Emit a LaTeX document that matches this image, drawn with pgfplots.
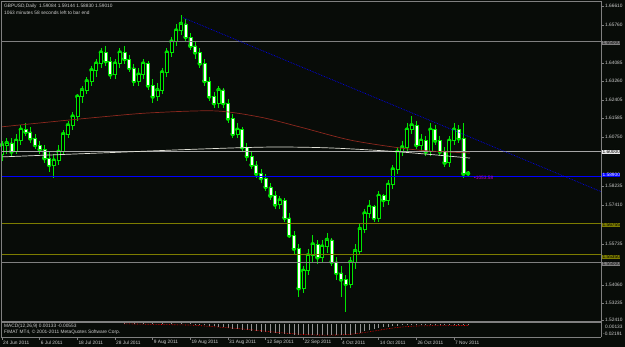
\documentclass[border=0pt]{standalone}
\usepackage{pgfplots}
\pgfplotsset{compat=1.18}
\usepackage{pgfplotstable}
\usepackage{fontspec}
\setmainfont{Liberation Sans}
\definecolor{bg}{RGB}{8,12,8}
\definecolor{limec}{RGB}{0,230,0}
\definecolor{mared}{RGB}{140,40,30}
\definecolor{mawhite}{RGB}{225,225,215}
\definecolor{olivec}{RGB}{125,125,0}
\definecolor{grayl}{RGB}{128,128,128}
\definecolor{tx}{RGB}{205,205,205}
\definecolor{magc}{RGB}{200,0,200}

\pgfplotstableread{
i o h l c
0 1.5990 1.6050 1.5960 1.6030
1 1.6030 1.6060 1.5990 1.6040
2 1.6040 1.6060 1.5980 1.6000
3 1.6000 1.6080 1.5990 1.6050
4 1.6050 1.6120 1.6030 1.6100
5 1.6100 1.6130 1.6070 1.6090
6 1.6090 1.6110 1.6040 1.6060
7 1.6060 1.6080 1.6010 1.6030
8 1.6030 1.6050 1.5990 1.6010
9 1.6010 1.6030 1.5950 1.5970
10 1.5970 1.6000 1.5910 1.5940
11 1.5940 1.5990 1.5880 1.5960
12 1.5960 1.6030 1.5940 1.6000
13 1.6000 1.6100 1.5990 1.6080
14 1.6080 1.6140 1.6060 1.6120
15 1.6120 1.6180 1.6100 1.6160
16 1.6160 1.6260 1.6140 1.6250
17 1.6250 1.6300 1.6220 1.6280
18 1.6280 1.6340 1.6260 1.6320
19 1.6320 1.6390 1.6300 1.6370
20 1.6370 1.6420 1.6340 1.6400
21 1.6400 1.6470 1.6380 1.6450
22 1.6450 1.6480 1.6390 1.6410
23 1.6410 1.6430 1.6330 1.6350
24 1.6350 1.6420 1.6330 1.6400
25 1.6400 1.6470 1.6380 1.6450
26 1.6450 1.6480 1.6400 1.6420
27 1.6420 1.6440 1.6360 1.6380
28 1.6380 1.6400 1.6300 1.6320
29 1.6320 1.6380 1.6300 1.6350
30 1.6350 1.6420 1.6330 1.6400
31 1.6400 1.6410 1.6280 1.6300
32 1.6300 1.6330 1.6220 1.6250
33 1.6250 1.6310 1.6230 1.6280
34 1.6280 1.6380 1.6260 1.6360
35 1.6360 1.6470 1.6340 1.6450
36 1.6450 1.6520 1.6430 1.6500
37 1.6500 1.6580 1.6480 1.6550
38 1.6550 1.6620 1.6530 1.6580
39 1.6580 1.6600 1.6500 1.6520
40 1.6520 1.6540 1.6460 1.6480
41 1.6480 1.6500 1.6420 1.6450
42 1.6450 1.6470 1.6380 1.6400
43 1.6400 1.6420 1.6300 1.6320
44 1.6320 1.6340 1.6230 1.6250
45 1.6250 1.6270 1.6200 1.6220
46 1.6220 1.6300 1.6200 1.6280
47 1.6280 1.6290 1.6200 1.6220
48 1.6220 1.6240 1.6130 1.6150
49 1.6150 1.6170 1.6060 1.6080
50 1.6080 1.6130 1.6060 1.6100
51 1.6100 1.6110 1.6000 1.6020
52 1.6020 1.6040 1.5960 1.5980
53 1.5980 1.6000 1.5920 1.5940
54 1.5940 1.5960 1.5880 1.5900
55 1.5900 1.5920 1.5860 1.5880
56 1.5880 1.5900 1.5820 1.5840
57 1.5840 1.5860 1.5780 1.5800
58 1.5800 1.5820 1.5740 1.5760
59 1.5760 1.5800 1.5740 1.5780
60 1.5780 1.5790 1.5680 1.5700
61 1.5700 1.5720 1.5610 1.5620
62 1.5620 1.5640 1.5530 1.5560
63 1.5560 1.5580 1.5340 1.5380
64 1.5380 1.5480 1.5360 1.5460
65 1.5460 1.5560 1.5440 1.5530
66 1.5530 1.5620 1.5500 1.5580
67 1.5580 1.5600 1.5490 1.5520
68 1.5520 1.5600 1.5500 1.5570
69 1.5570 1.5630 1.5540 1.5600
70 1.5600 1.5610 1.5480 1.5500
71 1.5500 1.5520 1.5420 1.5450
72 1.5450 1.5480 1.5340 1.5420
73 1.5420 1.5440 1.5272 1.5400
74 1.5400 1.5520 1.5380 1.5500
75 1.5500 1.5580 1.5470 1.5550
76 1.5550 1.5670 1.5530 1.5650
77 1.5650 1.5740 1.5630 1.5720
78 1.5720 1.5780 1.5700 1.5750
79 1.5750 1.5760 1.5680 1.5700
80 1.5700 1.5820 1.5680 1.5800
81 1.5800 1.5810 1.5750 1.5780
82 1.5780 1.5870 1.5760 1.5850
83 1.5850 1.5940 1.5830 1.5920
84 1.5920 1.6020 1.5900 1.6000
85 1.6000 1.6050 1.5980 1.6020
86 1.6020 1.6130 1.6000 1.6100
87 1.6100 1.6160 1.6080 1.6120
88 1.6120 1.6140 1.6010 1.6030
89 1.6030 1.6080 1.6000 1.6050
90 1.6050 1.6070 1.5980 1.6000
91 1.6000 1.6130 1.5980 1.6100
92 1.6100 1.6120 1.6030 1.6050
93 1.6050 1.6070 1.5980 1.6000
94 1.6000 1.6020 1.5930 1.5950
95 1.5950 1.6070 1.5930 1.6050
96 1.6050 1.6130 1.6030 1.6100
97 1.6100 1.6120 1.6040 1.6060
98 1.6060 1.6130 1.5880 1.5900
99 1.59084 1.59144 1.58830 1.59010
}\candles

\pgfplotstableread{
i m s
26 0.0040 0.0000
28 0.0030 -0.0003
30 0.0030 -0.0006
32 0.0020 -0.0009
34 0.0030 -0.0012
36 0.0040 -0.0015
38 0.0050 -0.0018
40 0.0020 -0.0021
41 -0.0004 -0.0025
42 -0.0010 -0.0030
43 -0.0020 -0.0036
44 -0.0030 -0.0042
45 -0.0040 -0.0048
46 -0.0050 -0.0054
47 -0.0060 -0.0060
48 -0.0070 -0.0066
49 -0.0080 -0.0072
50 -0.0090 -0.0078
51 -0.0100 -0.0085
52 -0.0108 -0.0092
53 -0.0116 -0.0100
54 -0.0124 -0.0108
55 -0.0132 -0.0116
56 -0.0140 -0.0124
57 -0.0148 -0.0132
58 -0.0155 -0.0140
59 -0.0162 -0.0147
60 -0.0168 -0.0154
61 -0.0174 -0.0160
62 -0.0180 -0.0166
63 -0.0186 -0.0172
64 -0.0190 -0.0177
65 -0.0190 -0.0181
66 -0.0188 -0.0184
67 -0.0186 -0.0186
68 -0.0185 -0.0187
69 -0.0184 -0.0187
70 -0.0184 -0.0187
71 -0.0186 -0.0186
72 -0.0188 -0.0184
73 -0.0188 -0.0180
74 -0.0180 -0.0174
75 -0.0165 -0.0166
76 -0.0145 -0.0156
77 -0.0125 -0.0145
78 -0.0105 -0.0133
79 -0.0088 -0.0120
80 -0.0072 -0.0107
81 -0.0060 -0.0094
82 -0.0048 -0.0082
83 -0.0038 -0.0071
84 -0.0030 -0.0061
85 -0.0025 -0.0053
86 -0.0020 -0.0046
87 -0.0018 -0.0041
88 -0.0020 -0.0037
89 -0.0020 -0.0035
90 -0.0022 -0.0033
91 -0.0018 -0.0032
92 -0.0018 -0.0031
93 -0.0020 -0.0030
94 -0.0022 -0.0030
95 -0.0020 -0.0030
96 -0.0016 -0.0029
97 -0.0016 -0.0029
98 -0.0022 -0.0029
99 -0.0024 -0.0029
}\macd

\pgfplotsset{
  chart/.style={at={(1pt,26pt)}, anchor=south west, width=600pt, height=319pt,
    scale only axis, xmin=-0.212, xmax=127.23, ymin=1.52319, ymax=1.66791,
    axis lines=none, clip=true},
}
\begin{document}
\fontsize{4.8}{5.6}\selectfont
\begin{tikzpicture}[x=1pt,y=1pt]
\fill[bg] (0,0) rectangle (625,347);
% wicks
\begin{axis}[chart]
\addplot[limec, only marks, mark=none, error bars/.cd, y dir=both, y explicit,
  error mark=none, error bar style={limec, line width=0.7pt}]
  table[x=i, y=c, y error plus expr=\thisrow{h}-\thisrow{c}, y error minus expr=\thisrow{c}-\thisrow{l}] {\candles};
\end{axis}
% bodies
\begin{axis}[chart, ybar stacked, bar width=3pt]
\addplot[draw=none, fill=none] table[x=i, y expr={min(\thisrow{o},\thisrow{c})}] {\candles};
\addplot[draw=limec, fill=black, line width=0.6pt] table[x=i, y expr={max(\thisrow{c}-\thisrow{o},0)}] {\candles};
\addplot[draw=limec, fill=white, line width=0.6pt] table[x=i, y expr={max(\thisrow{o}-\thisrow{c},0)}] {\candles};
\end{axis}
% lines and MAs
\begin{axis}[chart]
\addplot[grayl, line width=0.6pt] coordinates {(-1,1.65) (130,1.65)};
\addplot[grayl!70!white, line width=0.6pt] coordinates {(-1,1.60) (130,1.60)};
\addplot[grayl, line width=0.6pt] coordinates {(-1,1.55) (130,1.55)};
\addplot[olivec, line width=0.6pt] coordinates {(-1,1.5675) (130,1.5675)};
\addplot[olivec, line width=0.6pt] coordinates {(-1,1.5535) (130,1.5535)};
\addplot[blue, line width=0.8pt] coordinates {(-1,1.5890) (130,1.5890)};
\addplot[blue, densely dotted, line width=0.7pt] coordinates {(38.45,1.6608) (127.23,1.5819)};
\addplot[mared, line width=0.7pt, smooth] coordinates {
(-0.4,1.6112) (10.2,1.6135) (20.8,1.6157) (31.4,1.6176) (45.2,1.6185) (54.8,1.6157)
(63.3,1.6112) (73.9,1.6053) (84.5,1.6017) (90.9,1.6003) (99.4,1.5994)};
\addplot[mawhite, line width=0.7pt, smooth] coordinates {
(-0.4,1.5976) (20.8,1.5994) (42.1,1.6012) (57,1.6021) (69.7,1.6017) (84.5,1.5999) (99.4,1.5971)};
\end{axis}
% MACD window
\begin{axis}[at={(1pt,10pt)}, anchor=south west, width=600pt, height=14pt, scale only axis,
  xmin=-0.212, xmax=127.23, ymin=-0.02191, ymax=0.00133, axis lines=none, clip=true]
\addplot[ycomb, grayl!85!white, line width=0.6pt, mark=none] table[x=i, y=m] {\macd};
\addplot[red, densely dotted, line width=0.6pt] table[x=i, y=s] {\macd};
\end{axis}
% frame
\draw[grayl, line width=0.8pt] (1,346) -- (601,346);
\draw[grayl, line width=0.8pt] (1,10) -- (1,346);
\draw[grayl, line width=0.8pt] (601,10) -- (601,346);
\draw[grayl, line width=1.2pt] (1,25) -- (601,25);
\draw[grayl, line width=0.8pt] (1,10) -- (601,10);
% header
\node[anchor=west, text=tx, inner sep=0] at (4,341) {GBPUSD,Daily\ \ 1.59084 1.59144 1.58830 1.59010};
\node[anchor=west, text=tx, inner sep=0] at (4,334) {1063 minutes 58 seconds left to bar end};
\node[anchor=west, text=tx, inner sep=0] at (4,21) {MACD(12,26,9) 0.00133 -0.00553};
\node[anchor=west, text=tx, inner sep=0] at (4,14.5) {FIMAT MT4, \textcopyright\ 2001-2011 MetaQuotes Software Corp.};
\node[anchor=west, text=magc, inner sep=0] at (474,169) {\textbullet 1053.58};
% right labels
\foreach \p/\lab in {341/1.66610,322/1.65760,284/1.64085,266/1.63260,247/1.62405,229/1.61585,210/1.60750,161/1.58235,142/1.57410,103/1.55735,62/1.54060,44/1.53235,27/1.52410}{
  \draw[grayl] (601,\p) -- (604,\p);
  \node[anchor=west, text=tx, inner sep=0] at (605,\p) {\lab};
}
\node[anchor=west, fill=grayl, text=black, inner sep=0.4pt] at (602,304) {1.65000};
\node[anchor=west, fill=white!85!gray, text=black, inner sep=0.4pt] at (602,195) {1.60000};
\node[anchor=west, fill=blue, text=white, inner sep=0.4pt] at (602,172) {1.58900};
\node[anchor=west, fill=olivec, text=black, inner sep=0.4pt] at (602,122) {1.56755};
\node[anchor=west, fill=olivec, text=black, inner sep=0.4pt] at (602,90) {1.55350};
\node[anchor=west, fill=grayl, text=black, inner sep=0.4pt] at (602,83) {1.55000};
\node[anchor=west, text=tx, inner sep=0] at (605,20) {0.00133};
\node[anchor=west, text=tx, inner sep=0] at (603,13) {-0.02191};
% date labels
\foreach \k/\lab in {0/24 Jun 2011,8/6 Jul 2011,16/18 Jul 2011,24/28 Jul 2011,32/9 Aug 2011,40/19 Aug 2011,48/31 Aug 2011,56/12 Sep 2011,64/22 Sep 2011,72/4 Oct 2011,80/14 Oct 2011,88/26 Oct 2011,96/7 Nov 2011}{
  \pgfmathsetmacro{\xx}{2+4.708*\k}
  \draw[grayl] (\xx,10) -- (\xx,7);
  \node[anchor=west, text=tx, inner sep=0] at (\xx+1,4.5) {\lab};
}
\end{tikzpicture}
\end{document}
